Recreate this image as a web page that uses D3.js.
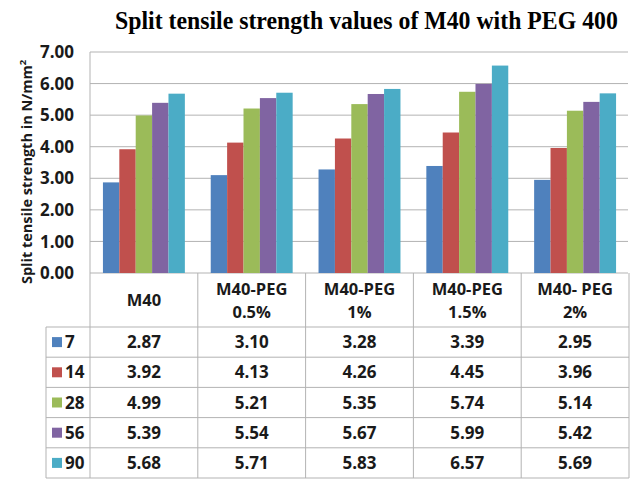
<!DOCTYPE html>
<html lang="en">
<head>
    <meta charset="UTF-8">
    <title>Split tensile strength values of M40 with PEG 400</title>
    <style>
        body {
            margin: 0;
            background: white;
            overflow: hidden;
        }
        text {
            font-family: 'Open Sans', sans-serif;
            font-weight: bold;
            fill: #1a1a1a;
        }
    </style>
    <script src="https://d3js.org/d3.v7.min.js"></script>
</head>
<body>
    <div id="chart"></div>
    <script>
        const categories = [["M40"], ["M40-PEG", "0.5%"], ["M40-PEG", "1%"], ["M40-PEG", "1.5%"], ["M40- PEG", "2%"]];
        const seriesNames = ["7", "14", "28", "56", "90"];
        const colors = ["#4f81bd", "#c0504d", "#9bbb59", "#8064a2", "#4bacc6"];
        const values = [
            [2.87, 3.10, 3.28, 3.39, 2.95],
            [3.92, 4.13, 4.26, 4.45, 3.96],
            [4.99, 5.21, 5.35, 5.74, 5.14],
            [5.39, 5.54, 5.67, 5.99, 5.42],
            [5.68, 5.71, 5.83, 6.57, 5.69]
        ];
        const yTicks = [0, 1, 2, 3, 4, 5, 6, 7];

        const width = 632, height = 480;
        const plotLeft = 90, plotRight = 629, plotTop = 52, plotBottom = 273;
        const headerBottom = 327, rowH = 30.2, legendLeft = 46;
        const lineColor = "#b3b3b3";

        const svg = d3.select("#chart").append("svg")
            .attr("width", width)
            .attr("height", height);

        const x = d3.scaleBand()
            .domain(d3.range(categories.length))
            .range([plotLeft, plotRight])
            .paddingInner(0.24)
            .paddingOuter(0.12);

        const xs = d3.scaleBand()
            .domain(d3.range(seriesNames.length))
            .range([0, x.bandwidth()]);

        const y = d3.scaleLinear()
            .domain([0, 7])
            .range([plotBottom, plotTop]);

        // gridlines
        svg.selectAll(".grid")
            .data(yTicks)
            .enter().append("line")
            .attr("x1", plotLeft)
            .attr("x2", plotRight - 1)
            .attr("y1", d => y(d))
            .attr("y2", d => y(d))
            .attr("stroke", lineColor)
            .attr("stroke-width", 1);

        svg.append("line")
            .attr("x1", plotLeft).attr("x2", plotLeft)
            .attr("y1", plotTop).attr("y2", plotBottom)
            .attr("stroke", lineColor);

        // y tick labels
        svg.selectAll(".ytick")
            .data(yTicks)
            .enter().append("text")
            .attr("x", 74)
            .attr("y", d => y(d))
            .attr("dy", "0.36em")
            .attr("text-anchor", "end")
            .attr("font-size", "17px")
            .text(d => d.toFixed(2));

        // y title
        svg.append("text")
            .attr("transform", "translate(32,172) rotate(-90)")
            .attr("text-anchor", "middle")
            .attr("font-size", "14.5px")
            .text("Split tensile strength in N/mm")
            .append("tspan")
            .attr("font-size", "9.5px")
            .attr("dy", "-6")
            .text("2");

        // bars
        const groups = svg.selectAll(".group")
            .data(categories)
            .enter().append("g")
            .attr("transform", (d, i) => "translate(" + x(i) + ",0)");

        groups.selectAll("rect")
            .data((d, i) => values.map((s, j) => ({ s: j, v: s[i] })))
            .enter().append("rect")
            .attr("x", d => xs(d.s))
            .attr("width", xs.bandwidth())
            .attr("y", d => y(d.v))
            .attr("height", d => y(0) - y(d.v))
            .attr("fill", d => colors[d.s]);

        // table lines
        const colEdges = d3.range(categories.length + 1).map(i => plotLeft + i * x.step());
        const tableBottom = headerBottom + rowH * seriesNames.length;

        svg.selectAll(".vline")
            .data(colEdges)
            .enter().append("line")
            .attr("x1", d => d).attr("x2", d => d)
            .attr("y1", plotBottom).attr("y2", tableBottom)
            .attr("stroke", lineColor);

        svg.append("line")
            .attr("x1", legendLeft).attr("x2", legendLeft)
            .attr("y1", headerBottom).attr("y2", tableBottom)
            .attr("stroke", lineColor);

        svg.selectAll(".hline")
            .data(d3.range(seriesNames.length + 1))
            .enter().append("line")
            .attr("x1", legendLeft).attr("x2", plotRight)
            .attr("y1", d => headerBottom + d * rowH)
            .attr("y2", d => headerBottom + d * rowH)
            .attr("stroke", lineColor);

        // header labels
        const headers = svg.selectAll(".header")
            .data(categories)
            .enter().append("text")
            .attr("text-anchor", "middle")
            .attr("font-size", "16.5px")
            .attr("x", (d, i) => x(i) + x.bandwidth() / 2);

        headers.selectAll("tspan")
            .data(d => d.map((t, k) => ({ t: t, k: k, n: d.length })))
            .enter().append("tspan")
            .attr("x", function() { return this.parentNode.getAttribute("x"); })
            .attr("y", d => d.n === 1 ? 306 : (d.k === 0 ? 295 : 318))
            .text(d => d.t);

        // data rows
        const rows = svg.selectAll(".row")
            .data(seriesNames)
            .enter().append("g")
            .attr("transform", (d, j) => "translate(0," + (headerBottom + j * rowH + rowH / 2) + ")");

        rows.append("rect")
            .attr("x", 52)
            .attr("y", -5)
            .attr("width", 10)
            .attr("height", 10)
            .attr("fill", (d, j) => colors[j]);

        rows.append("text")
            .attr("x", 65)
            .attr("dy", "0.36em")
            .attr("font-size", "17px")
            .text(d => d);

        rows.selectAll(".val")
            .data((d, j) => values[j])
            .enter().append("text")
            .attr("x", (d, i) => x(i) + x.bandwidth() / 2)
            .attr("dy", "0.36em")
            .attr("text-anchor", "middle")
            .attr("font-size", "17px")
            .text(d => d.toFixed(2));

        // title (squeezed horizontally like the original)
        const title = svg.append("text")
            .attr("x", 0)
            .attr("y", 0)
            .style("font-family", "'Liberation Serif', 'Times New Roman', serif")
            .style("font-size", "26px")
            .style("fill", "#000")
            .text("Split tensile strength values of M40 with PEG 400");
        const sx = 503 / title.node().getComputedTextLength();
        title.attr("transform", "translate(115,29) scale(" + sx + ",1)");
    </script>
</body>
</html>
